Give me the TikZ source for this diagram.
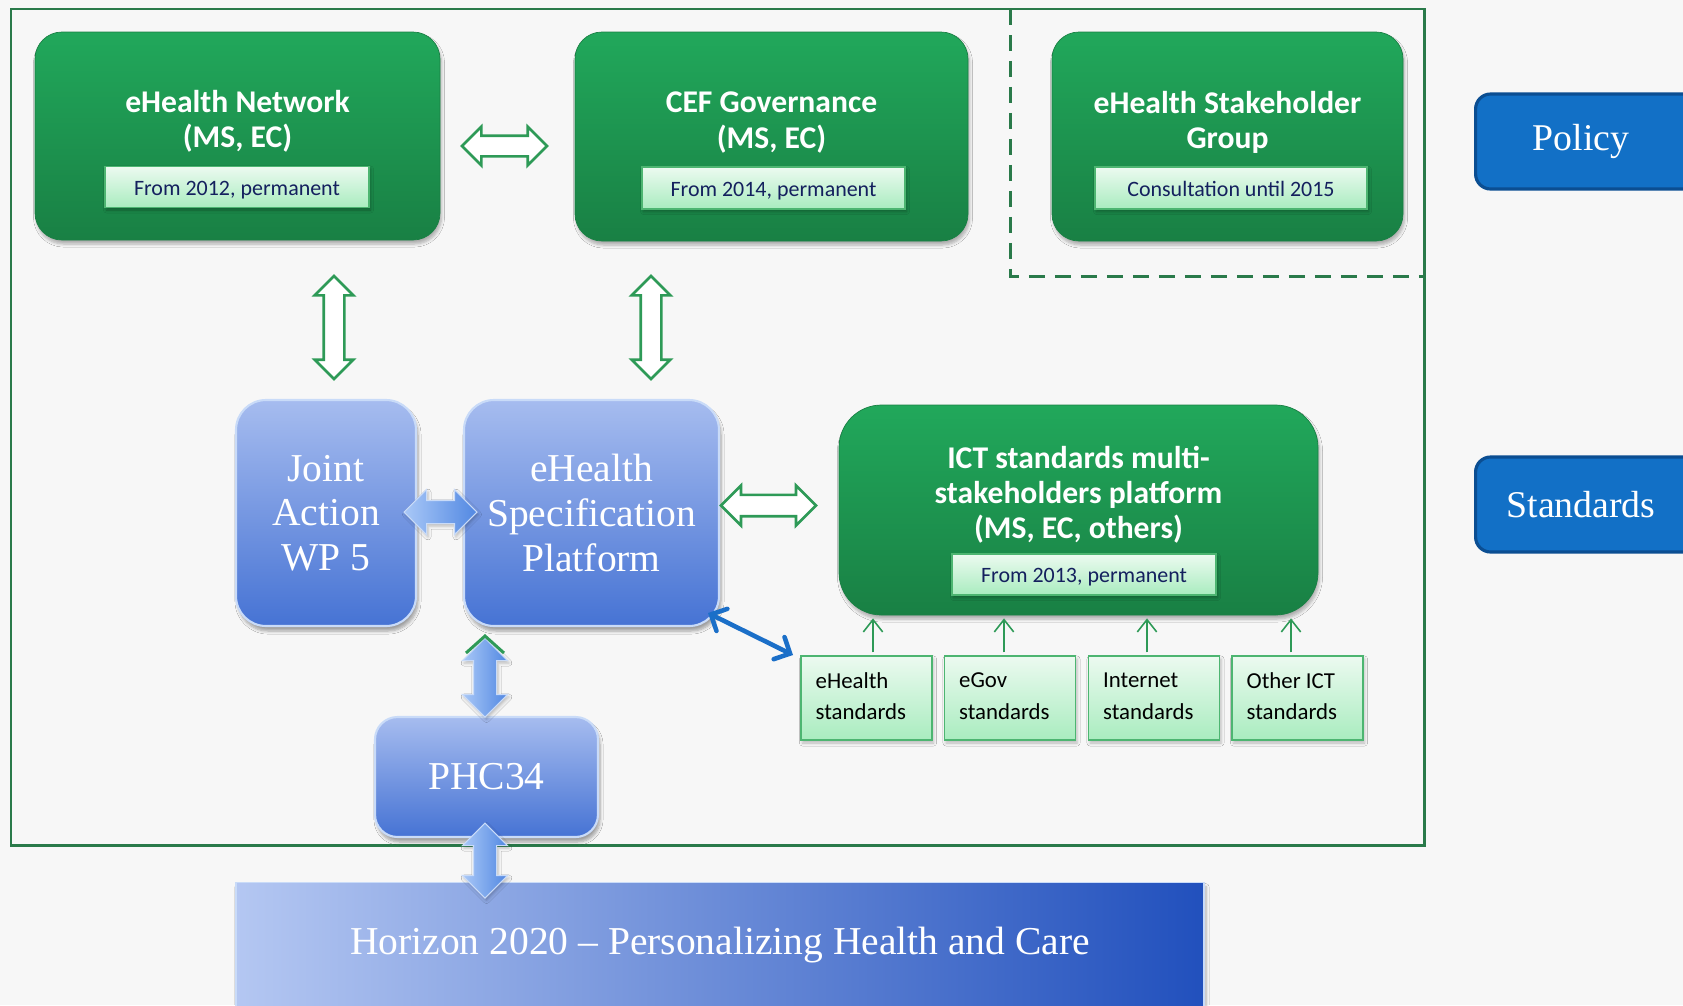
\documentclass[tikz,border=0pt]{standalone}
\usepackage{fontspec}
\newfontfamily\carl{Carlito}
\newfontfamily\srf{Liberation Serif}[Ligatures=TeX]
\usetikzlibrary{shapes.arrows,arrows.meta,shadows.blur,calc}
\definecolor{bgc}{HTML}{F7F7F7}
\definecolor{gtop}{HTML}{21A85B}
\definecolor{gbot}{HTML}{198044}
\definecolor{frm}{HTML}{2A7A4A}
\definecolor{stop}{HTML}{ECFAF0}
\definecolor{sbot}{HTML}{A9ECBF}
\definecolor{sbrd}{HTML}{4DB571}
\definecolor{navy}{HTML}{14205E}
\definecolor{garr}{HTML}{2E9A57}
\definecolor{btop}{HTML}{A6BCEF}
\definecolor{bbot}{HTML}{4673D4}
\definecolor{bbrd}{HTML}{C9DBF8}
\definecolor{hleft}{HTML}{B4C7F2}
\definecolor{hright}{HTML}{2150BD}
\definecolor{pfill}{HTML}{1270C6}
\definecolor{pbrd}{HTML}{0B4E92}
\definecolor{diag}{HTML}{1B6FC8}
\definecolor{aLt}{HTML}{A9C8F7}
\definecolor{aDk}{HTML}{5288E2}
\newcommand\pxl{0.02cm}
\begin{document}
\begin{tikzpicture}[x=0.02cm,y=-0.02cm,
  gbox/.style={rounded corners=0.54cm, top color=gtop, bottom color=gbot, draw=gbot, line width=0.4pt,
    blur shadow={shadow xshift=0.03cm, shadow yshift=-0.08cm, shadow opacity=30, shadow blur steps=6}},
  gtitle/.style={text=white, font=\carl\bfseries\fontsize{18pt}{20pt}\selectfont, align=center},
  subbox/.style={top color=stop, bottom color=sbot, draw=sbrd, line width=0.6pt, text=navy,
    font=\carl\fontsize{12.5pt}{15pt}\selectfont, inner sep=0pt, text height=0.92em, text depth=0pt,
    blur shadow={shadow xshift=0.03cm, shadow yshift=-0.05cm, shadow opacity=30, shadow blur steps=4}},
  stdbox/.style={top color=stop, bottom color=sbot, draw=sbrd, line width=0.8pt, text=black,
    font=\carl\fontsize{13pt}{18pt}\selectfont, align=left, inner xsep=15*\pxl, inner ysep=0pt,
    text width=101*\pxl, minimum height=84*\pxl,
    blur shadow={shadow xshift=0.03cm, shadow yshift=-0.06cm, shadow opacity=25, shadow blur steps=4}},
  stdtext/.style={text=black, font=\carl\fontsize{13pt}{18pt}\selectfont, align=left, anchor=west, inner sep=0pt},
  bbox/.style={rounded corners=0.6cm, top color=btop, bottom color=bbot, draw=bbrd, line width=1.2pt,
    text=white, font=\srf\fontsize{22.5pt}{25.5pt}\selectfont, align=center,
    blur shadow={shadow xshift=0.04cm, shadow yshift=-0.1cm, shadow opacity=35, shadow blur steps=6}},
  sidebox/.style={rounded corners=0.3cm, fill=pfill, draw=pbrd, line width=1.8pt},
  sidetext/.style={text=white, font=\srf\fontsize{21.5pt}{24pt}\selectfont},
  frame/.style={draw=frm, line width=1.7pt},
  garrow/.style={double arrow, draw=garr, fill=white, line width=1.5pt, inner xsep=0pt, inner ysep=9*\pxl,
    double arrow head extend=9*\pxl, minimum width=36*\pxl},
  barrow/.style={double arrow, left color=aLt, right color=aDk, draw=bbrd, line width=0.6pt,
    inner xsep=0pt, inner ysep=11*\pxl, double arrow head extend=11*\pxl, minimum width=44*\pxl,
    blur shadow={shadow xshift=0.03cm, shadow yshift=-0.05cm, shadow opacity=25, shadow blur steps=4}},
  thinup/.style={draw=garr, line width=0.9pt, -{Straight Barb[length=7pt,width=11pt]}},
  diagarrow/.style={draw=diag, line width=2.6pt, line cap=round,
    {Straight Barb[length=7pt,width=14pt,line cap=round]}-{Straight Barb[length=7pt,width=14pt,line cap=round]}}
]
\useasboundingbox (0,0) rectangle (1683,1005);
\clip (0,0) rectangle (1683,1005);
\fill[bgc] (0,0) rectangle (1683,1005);

% frames
\draw[frame] (11,9) rectangle (1424,845);
\draw[frame, dash pattern=on 0.32cm off 0.2cm] (1010,9) -- (1010,276) -- (1424,276);

% top green boxes
\node[gbox, minimum width=405*\pxl, minimum height=208*\pxl] (en) at (237.5,136) {};
\node[gtitle] (ent) at (237.5,121.5) {eHealth Network\\(MS, EC)};
\node[subbox, minimum width=264*\pxl, minimum height=41*\pxl] (ens) at (237,187) {From 2012, permanent};

\node[gbox, minimum width=393*\pxl, minimum height=209*\pxl] (cef) at (771.5,136.5) {};
\node[gtitle] (ceft) at (771.5,122.5) {CEF Governance\\(MS, EC)};
\node[subbox, minimum width=263*\pxl, minimum height=42*\pxl] (cefs) at (773.5,188) {From 2014, permanent};

\node[gbox, minimum width=351*\pxl, minimum height=209*\pxl] (shg) at (1227.5,136.5) {};
\node[gtitle] (shgt) at (1227.5,122) {eHealth Stakeholder\\Group};
\node[subbox, minimum width=272*\pxl, minimum height=42*\pxl] (shgs) at (1231,188) {Consultation until 2015};

% ICT platform
\node[gbox, rounded corners=0.85cm, minimum width=479*\pxl, minimum height=210*\pxl] (ict) at (1078.5,510) {};
\node[gtitle] (ictt) at (1078.5,495) {ICT standards multi-\\stakeholders platform\\(MS, EC, others)};
\node[subbox, minimum width=264*\pxl, minimum height=41*\pxl] (icts) at (1084,574.5) {From 2013, permanent};

% standards boxes
\node[stdbox] (s1) at (866.5,698) {};
\node[stdbox] (s2) at (1010,698) {};
\node[stdbox] (s3) at (1154,698) {};
\node[stdbox] (s4) at (1297.5,698) {};
\node[stdtext] (s1t) at ($(s1.west)+(15,-2)$) {eHealth\\standards};
\node[stdtext] (s2t) at ($(s2.west)+(15,-2)$) {eGov\\standards};
\node[stdtext] (s3t) at ($(s3.west)+(15,-2)$) {Internet\\standards};
\node[stdtext] (s4t) at ($(s4.west)+(15,-2)$) {Other ICT\\standards};
\draw[thinup] ($(s1.north)+(6.5,-3)$) -- ($(s1.north |- ict.south)+(6.5,3)$);
\draw[thinup] ($(s2.north)+(-6,-3)$) -- ($(s2.north |- ict.south)+(-6,3)$);
\draw[thinup] ($(s3.north)+(-7,-3)$) -- ($(s3.north |- ict.south)+(-7,3)$);
\draw[thinup] ($(s4.north)+(-6.5,-3)$) -- ($(s4.north |- ict.south)+(-6.5,3)$);

% blue boxes
\node[bbox, minimum width=180*\pxl, minimum height=226*\pxl] (jp) at (326,513) {Joint\\Action\\WP 5};
\node[bbox, minimum width=255*\pxl, minimum height=226*\pxl] (esp) at (591.5,513) {eHealth\\Specification\\Platform};
\node[bbox, rounded corners=0.45cm, minimum width=223*\pxl, minimum height=120*\pxl] (phc) at (486.5,777) {PHC34};
\node[rectangle, left color=hleft, right color=hright, draw=bbrd, line width=0.8pt,
  minimum width=968*\pxl, minimum height=140*\pxl, anchor=north,
  blur shadow={shadow xshift=0.04cm, shadow yshift=-0.08cm, shadow opacity=30, shadow blur steps=6}]
  (hor) at (720,882) {};
\node[text=white, font=\srf\fontsize{22.5pt}{25pt}\selectfont] (hort) at (720,945) {Horizon 2020 – Personalizing Health and Care};

% side labels
\node[sidebox, minimum width=240*\pxl, minimum height=95*\pxl, anchor=west] (pol) at (1474,141.5) {};
\node[sidetext] (polt) at (1581,141.5) {Policy};
\node[sidebox, minimum width=240*\pxl, minimum height=95*\pxl, anchor=west] (std) at (1474,504.5) {};
\node[sidetext] (stdt) at (1581,504.5) {Standards};

% green double arrows
\node[garrow, minimum height=85*\pxl] (a1) at (504.5,146) {};
\node[garrow, minimum height=103*\pxl, rotate=90] (a2) at (334,327.5) {};
\node[garrow, minimum height=103*\pxl, rotate=90] (a3) at (651,327.5) {};
\node[garrow, minimum height=95*\pxl, minimum width=40*\pxl] (a4) at (768.5,505.5) {};

% blue double arrows
\node[barrow, minimum height=73*\pxl, minimum width=42*\pxl] (b1) at (440.5,512) {};
\node[barrow, minimum height=79*\pxl, rotate=90] (b2) at (485,677.5) {};
\node[barrow, minimum height=75*\pxl, rotate=90] (b3) at (485,860.5) {};
\draw[draw=garr, line width=1.7pt] (466,653) -- (485,636) -- (504,653);

% diagonal arrow
\coordinate (dA) at (708,613);
\coordinate (dB) at (793,655);
\draw[diagarrow] (dA) -- (dB);
\end{tikzpicture}
\end{document}
